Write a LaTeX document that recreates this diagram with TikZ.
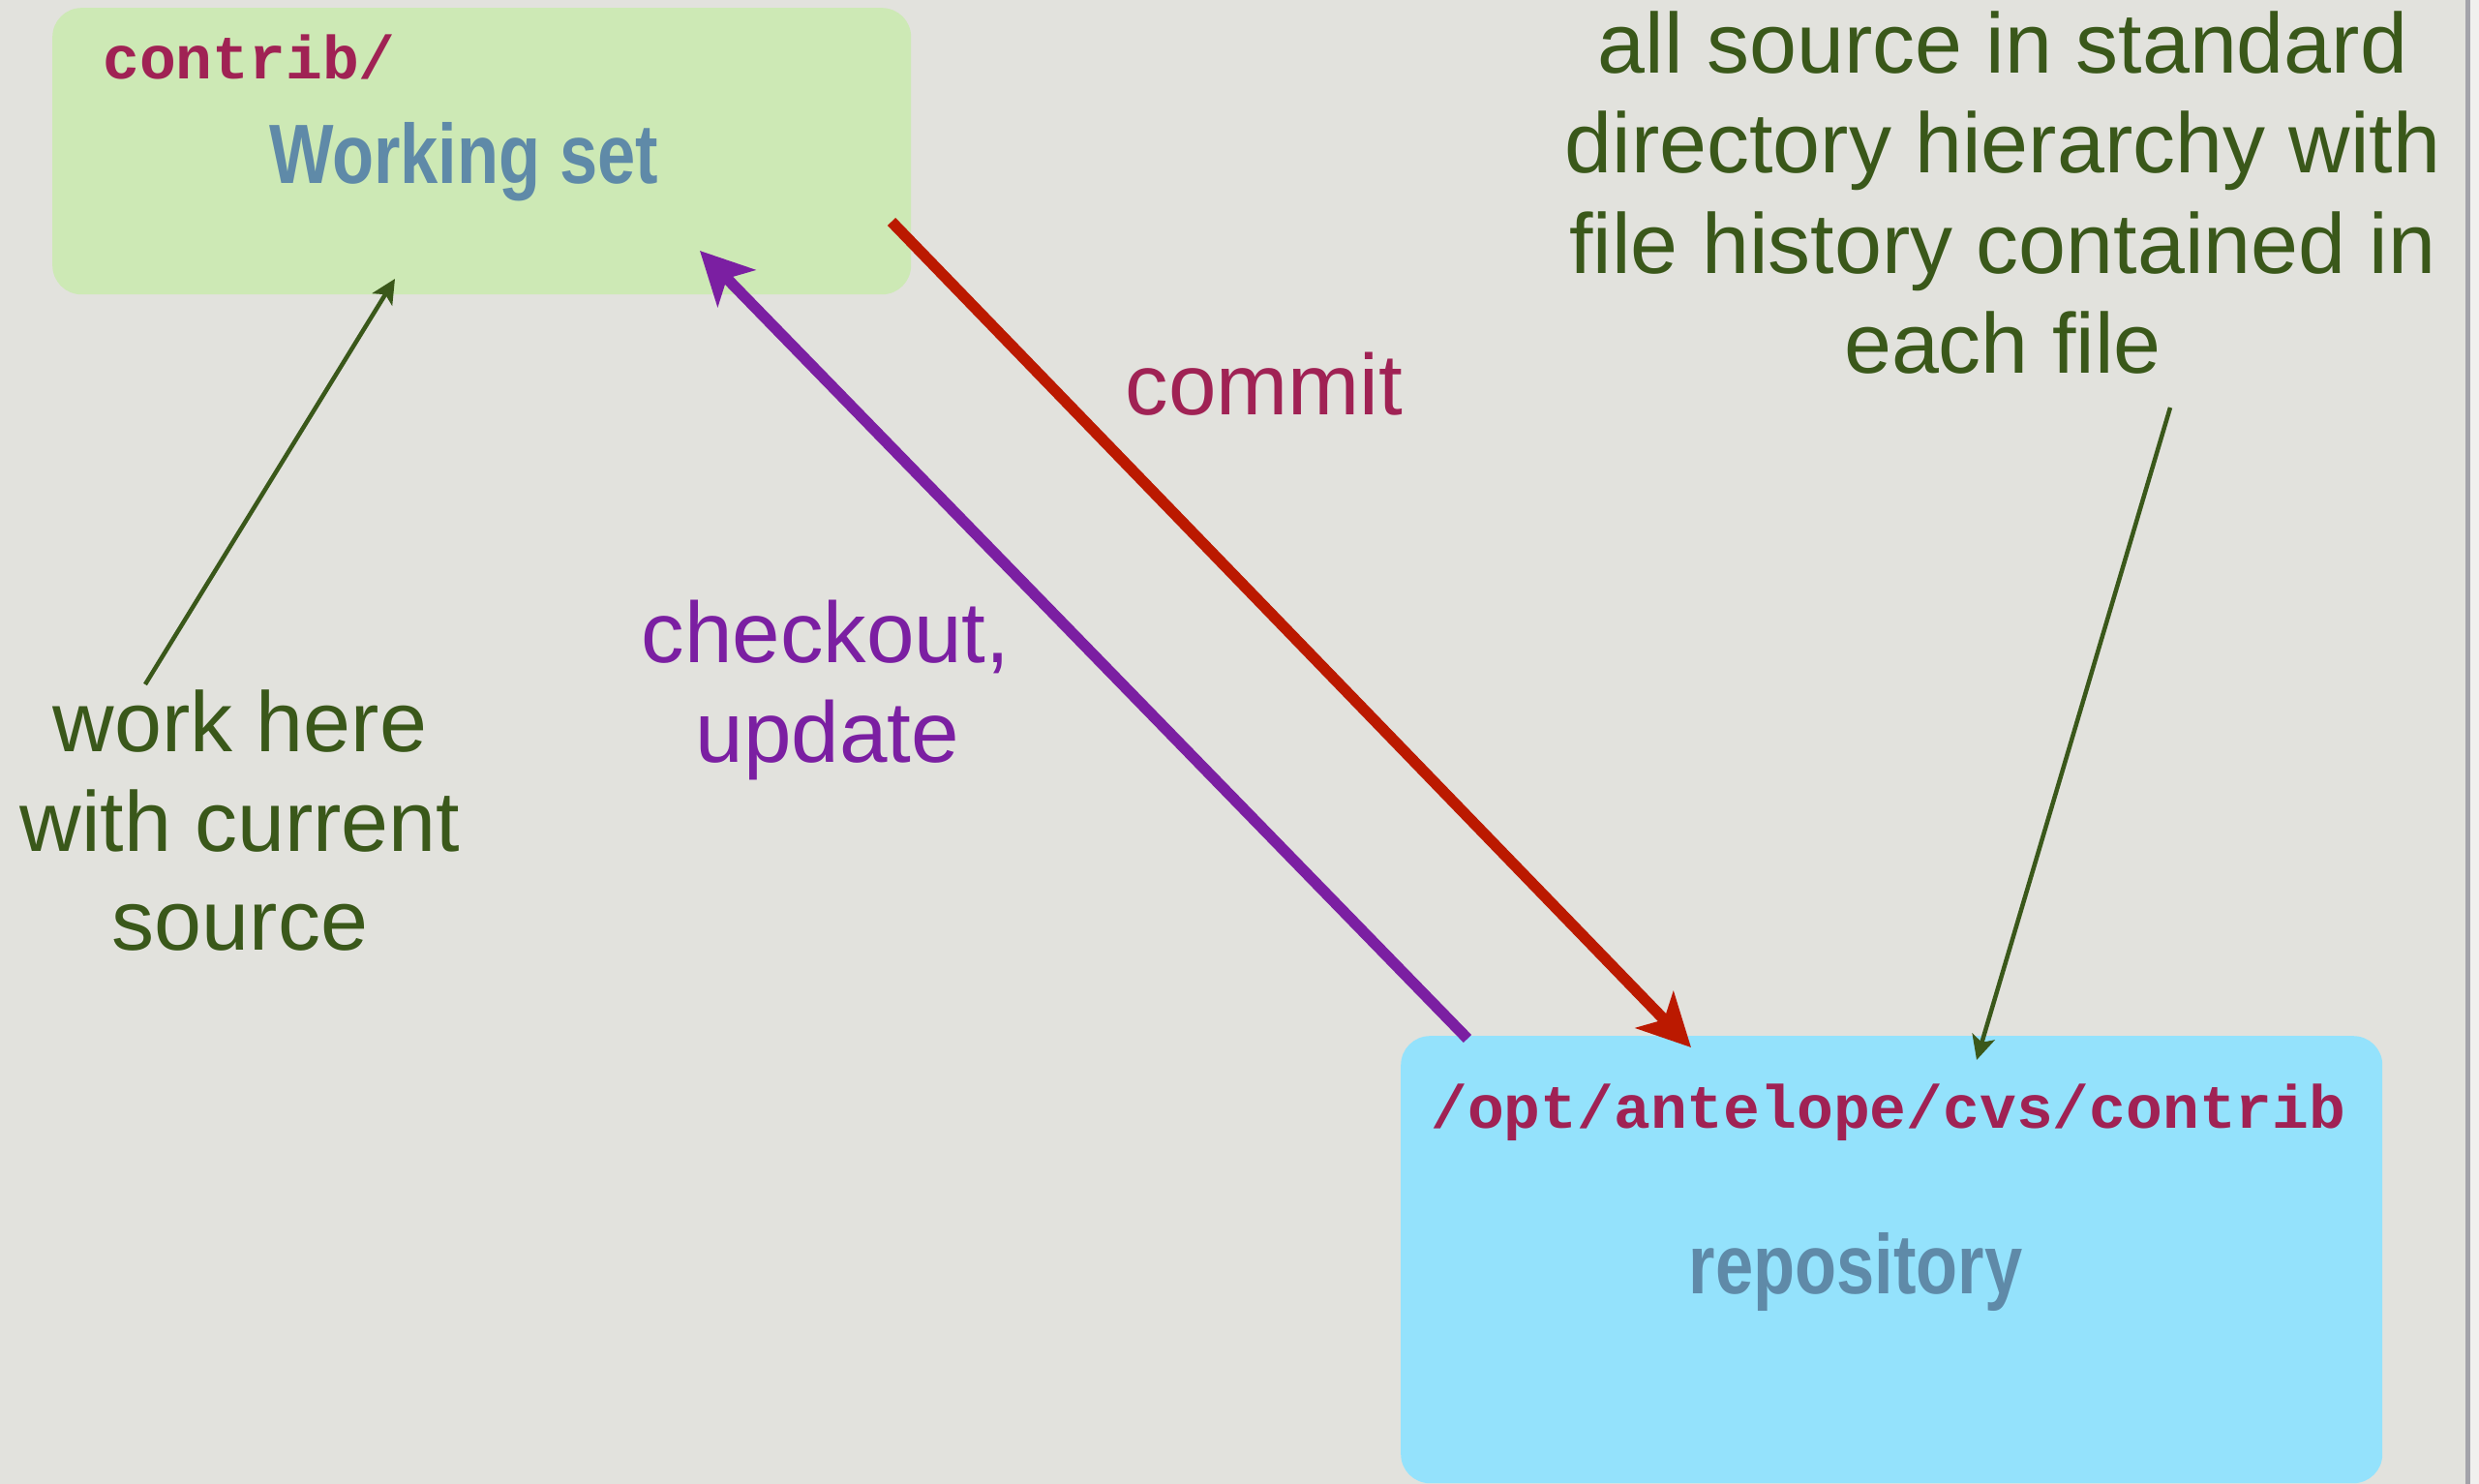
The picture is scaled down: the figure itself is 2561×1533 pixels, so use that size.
\documentclass[tikz,border=0pt]{standalone}
\usepackage{fontspec}
\usepackage{graphicx}
\setmainfont{Liberation Sans}
\newfontfamily\monob{Liberation Mono}
\usetikzlibrary{arrows.meta}
\definecolor{bgc}{HTML}{E2E2DD}
\definecolor{wsgreen}{HTML}{CDE9B5}
\definecolor{repoblue}{HTML}{94E2FC}
\definecolor{maroonc}{HTML}{A02254}
\definecolor{steelc}{HTML}{5F8AA8}
\definecolor{notegreen}{HTML}{3A581A}
\definecolor{purplec}{HTML}{7B1FA2}
\definecolor{redc}{HTML}{BB1900}
\definecolor{edgec}{HTML}{A3A3AA}
\tikzset{
  boxc/.style={draw=none, rounded corners=30pt, inner sep=0pt, anchor=north west},
  dirtext/.style={anchor=base west, inner sep=0pt, text=maroonc, font=\monob\bfseries\fontsize{63}{70}\selectfont},
  titletext/.style={anchor=base, inner sep=0pt, text=steelc, font=\bfseries\fontsize{87}{100}\selectfont},
  notetext/.style={anchor=base, inner sep=0pt, text=notegreen, font=\fontsize{88}{103}\selectfont},
  cmdtext/.style={anchor=base, inner sep=0pt, font=\fontsize{89}{103}\selectfont},
  fatarrow/.style={line width=11.5pt, -{Stealth[length=54pt, width=54pt, inset=14pt]}},
  thinarrow/.style={line width=4.5pt, color=notegreen, -{Stealth[length=25pt, width=24pt, inset=6pt]}}
}
\begin{document}
\begin{tikzpicture}[x=1pt,y=-1pt]
\fill[bgc] (0,0) rectangle (2561,1533);
\useasboundingbox (0,0) rectangle (2561,1533);
\fill[white!50!bgc] (2549,0) rectangle (2561,1533);
\draw[line width=5pt, color=edgec] (2549.5,0) -- (2549.5,1533);

% boxes
\node[boxc, fill=wsgreen, minimum width=887pt, minimum height=296pt] (ws) at (54,8) {};
\node[boxc, fill=repoblue, minimum width=1014pt, minimum height=462pt] (repo) at (1447,1070) {};

% box texts
\node[dirtext] (wsdir) at (106,82) {contrib/};
\node[titletext] (wstitle) at (479,190) {\scalebox{0.81}[1]{Working set}};
\node[dirtext] (repodir) at (1478,1165) {/opt/antelope/cvs/contrib};
\node[titletext] (repotitle) at (1917,1336) {\scalebox{0.81}[1]{repository}};

% right note
\node[notetext] (rn1) at (2069,76) {all source in standard};
\node[notetext] (rn2) at (2069,179) {directory hierarchy with};
\node[notetext] (rn3) at (2069,282) {file history contained in};
\node[notetext] (rn4) at (2069,385) {each file};

% left note
\node[notetext] (ln1) at (248,776) {work here};
\node[notetext] (ln2) at (248,879) {with current};
\node[notetext] (ln3) at (248,981) {source};

% command labels
\node[cmdtext, text=maroonc] (commit) at (1306,428) {commit};
\node[cmdtext, text=purplec] (co1) at (853,684) {checkout,};
\node[cmdtext, text=purplec] (co2) at (855,787) {update};

% connector end points
\coordinate (wsRedStart) at (921,229);
\coordinate (repoRedEnd) at (1747,1082);
\coordinate (repoPurpleStart) at (1516,1073);
\coordinate (wsPurpleEnd) at (723,259);
\coordinate (lnStart) at (150,707);
\coordinate (wsGreenEnd) at (408,288);
\coordinate (rnStart) at (2242,421);
\coordinate (repoGreenEnd) at (2042,1095);

\draw[fatarrow, color=redc] (wsRedStart) -- (repoRedEnd);
\draw[fatarrow, color=purplec] (repoPurpleStart) -- (wsPurpleEnd);
\draw[thinarrow] (lnStart) -- (wsGreenEnd);
\draw[thinarrow] (rnStart) -- (repoGreenEnd);
\end{tikzpicture}
\end{document}
